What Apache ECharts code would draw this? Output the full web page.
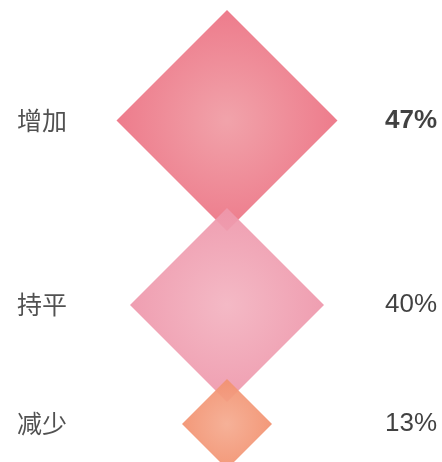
<!DOCTYPE html>
<html>
<head>
<meta charset="utf-8">
<script src="https://cdn.jsdelivr.net/npm/echarts@6/dist/echarts.min.js"></script>
<style>
  html, body { margin: 0; padding: 0; background: #fff; }
  #chart { width: 442px; height: 462px; }
</style>
</head>
<body>
<div id="chart"></div>
<script>
// 数据
const categories = ['增加', '持平', '减少']
const values = [47, 40, 13]
const edgeColors = ['#ec7283', '#ee97ab', '#f2916f']
const centerColors = ['#f09ca4', '#f3b4c1', '#f5ab90']

// 菱形大小随数值变化
const sizeOf = v => 3.85 * v + 40
const topPad = 10
const overlap = 23

// 依次往下排，后一个和前一个叠一点
const rowY = []
values.forEach((v, i) => {
    if (i === 0) {
        rowY.push(topPad + sizeOf(v) / 2)
    } else {
        rowY.push(rowY[i - 1] + sizeOf(values[i - 1]) / 2 + sizeOf(v) / 2 - overlap)
    }
})

const chart = echarts.init(document.getElementById('chart'))

const diamonds = values.map((v, i) => ({
    value: [1, rowY[i], v],
    symbolSize: sizeOf(v),
    itemStyle: {
        color: {
            type: 'radial', x: 0.5, y: 0.5, r: 0.5,
            colorStops: [
                { offset: 0, color: centerColors[i] },
                { offset: 1, color: edgeColors[i] }
            ]
        }
    }
}))

chart.setOption({
    backgroundColor: '#fff',
    animation: false,
    grid: { left: 17, right: 5, top: 0, bottom: 0 },
    xAxis: { type: 'value', min: 0, max: 2, show: false },
    yAxis: { type: 'value', min: 0, max: 462, inverse: true, show: false },
    series: [
        {
            type: 'scatter',
            symbol: 'diamond',
            itemStyle: { opacity: 0.93 },
            data: diamonds
        },
        {
            type: 'scatter',
            symbolSize: 0,
            data: categories.map((c, i) => ({ name: c, value: [0, rowY[i]] })),
            label: {
                show: true,
                position: 'right',
                distance: 0,
                formatter: p => p.name,
                fontFamily: 'Noto Sans CJK SC',
                fontSize: 25,
                color: '#262626'
            }
        },
        {
            type: 'scatter',
            symbolSize: 0,
            data: values.map((v, i) => ({
                value: [2, rowY[i], v],
                label: { fontWeight: i === 0 ? 'bold' : 'normal' }
            })),
            label: {
                show: true,
                position: 'left',
                distance: 0,
                formatter: p => p.value[2] + '%',
                fontFamily: 'Liberation Sans',
                fontSize: 26,
                color: '#111'
            }
        }
    ]
})
</script>
</body>
</html>
